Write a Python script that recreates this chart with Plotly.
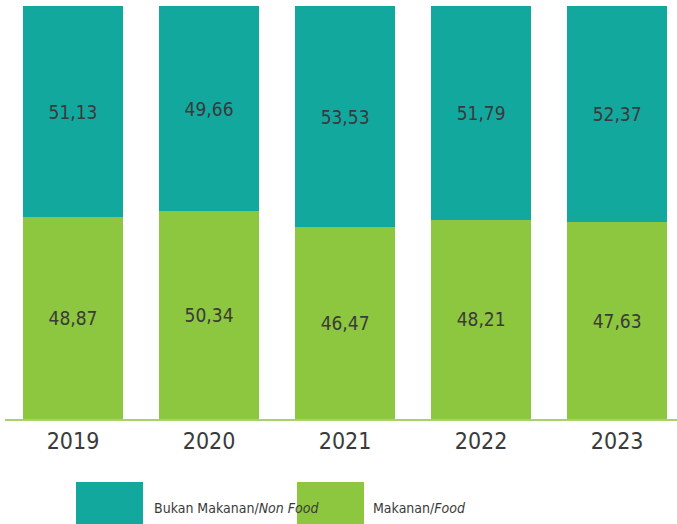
import plotly.graph_objects as go

years = ["2019", "2020", "2021", "2022", "2023"]
food = [48.87, 50.34, 46.47, 48.21, 47.63]
non_food = [51.13, 49.66, 53.53, 51.79, 52.37]
food_labels = ["48,87", "50,34", "46,47", "48,21", "47,63"]
non_food_labels = ["51,13", "49,66", "53,53", "51,79", "52,37"]
legend_names = ["Bukan Makanan/<i>Non Food</i>", "Makanan/<i>Food</i>"]

TEAL = "#13a89e"
GREEN = "#8dc63f"
TEXT = "#3a3a3a"
FONT = "Liberation Sans Narrow, DejaVu Sans Condensed, sans-serif"

fig = go.Figure()
fig.add_trace(go.Bar(
    x=years, y=food, text=food_labels, name="Makanan",
    marker=dict(color=GREEN, line=dict(width=0)), width=0.73,
    textposition="inside", insidetextanchor="middle",
    textfont=dict(family=FONT, size=19, color=TEXT),
))
fig.add_trace(go.Bar(
    x=years, y=non_food, text=non_food_labels, name="Bukan Makanan",
    marker=dict(color=TEAL, line=dict(width=0)), width=0.73,
    textposition="inside", insidetextanchor="middle",
    textfont=dict(family=FONT, size=19, color=TEXT),
))

# custom legend with large swatches below the chart
swatches = [(76, 143, TEAL, 152), (297, 364, GREEN, 371)]
W, H = 677, 524
for (x0, x1, col, tx), name in zip(swatches, legend_names):
    fig.add_shape(type="rect", xref="paper", yref="paper",
                  x0=(x0 - 5) / 672, x1=(x1 - 5) / 672,
                  y0=(419 - 530) / 413, y1=(419 - 482) / 413,
                  fillcolor=col, line=dict(width=0), layer="above")
    fig.add_annotation(xref="paper", yref="paper", x=(tx - 5) / 672, y=(419 - 508) / 413,
                       text=name, showarrow=False, xanchor="left", yanchor="middle",
                       font=dict(family=FONT, size=14, color=TEXT))

fig.update_layout(
    barmode="stack",
    width=W, height=H,
    margin=dict(l=5, r=0, t=6, b=105),
    plot_bgcolor="white", paper_bgcolor="white",
    showlegend=False,
)
fig.update_xaxes(type="category", range=[-0.5, 4.44], showgrid=False,
                 showline=True, linecolor="#a5d26a", linewidth=2,
                 tickfont=dict(family=FONT, size=23, color=TEXT), ticks="")
fig.update_yaxes(range=[0, 100], visible=False, showgrid=False)

fig.write_html("out.html", config={"displayModeBar": False},
               post_script="document.body.style.margin='0px';")
